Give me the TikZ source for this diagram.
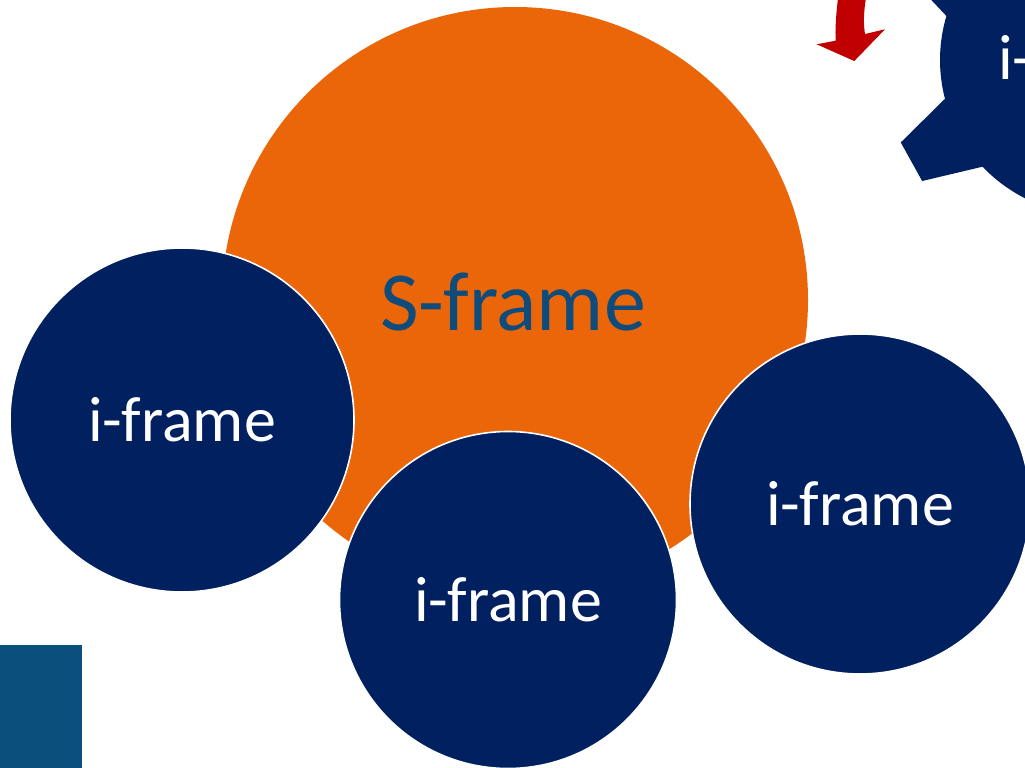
\documentclass[tikz,border=0pt]{standalone}
\usepackage{fontspec}
\setmainfont{Carlito}
\usetikzlibrary{calc}
\definecolor{navy}{HTML}{002060}
\definecolor{orng}{HTML}{EB6608}
\definecolor{steel}{HTML}{0B4F7C}
\definecolor{stext}{HTML}{0F4C7C}
\definecolor{arrred}{HTML}{C00000}
\tikzset{
  iframe/.style={circle, fill=navy, draw=white, line width=1.6pt, inner sep=0pt,
     text=white, font=\fontsize{64}{72}\selectfont},
  sframe/.style={circle, fill=orng, inner sep=0pt, text=stext,
     font=\fontsize{84}{92}\selectfont}
}
\begin{document}
\begin{tikzpicture}[x=1pt,y=-1pt]
\useasboundingbox (0,0) rectangle (1025,768);
\clip (0,0) rectangle (1025,768);
% orange S-frame circle
\node[sframe, minimum size=586pt] (s) at (515,300) {};
\node[text=stext, font=\fontsize{84}{92}\selectfont] (stxt) at (513,302) {S-frame};
% gear at top right
\coordinate (g) at (1095,60);
\fill[navy] ($(g)+(136.5:155)$)
  \foreach \a in {151,211,271,331,391,451}{
    -- ($(g)+(\a-6:211)$) -- ($(g)+(\a+6:211)$) -- ($(g)+(\a+14.5:155)$)
    arc[start angle=\a+14.5, end angle=\a+45.5, radius=155]
  } -- cycle;
\node[text=white, font=\fontsize{64}{72}\selectfont] (gtxt) at (1092,58) {i-frame};
% red arrow
\fill[arrred] (838,-2) .. controls (836,15) and (835,30) .. (835.7,40.7)
  -- (816.7,44.3) -- (854.3,61) -- (885,29.3) -- (865,34)
  .. controls (863,22) and (864,10) .. (866,-2) -- cycle;
% blue rectangle
\fill[steel] (0,645) rectangle (82,770);
% i-frame circles
\node[iframe, minimum size=344pt] (left) at (182,420) {i-frame};
\node[iframe, minimum size=337pt] (bottom) at (508,600) {i-frame};
\node[iframe, minimum size=340pt] (right) at (860,504) {i-frame};
\end{tikzpicture}
\end{document}
